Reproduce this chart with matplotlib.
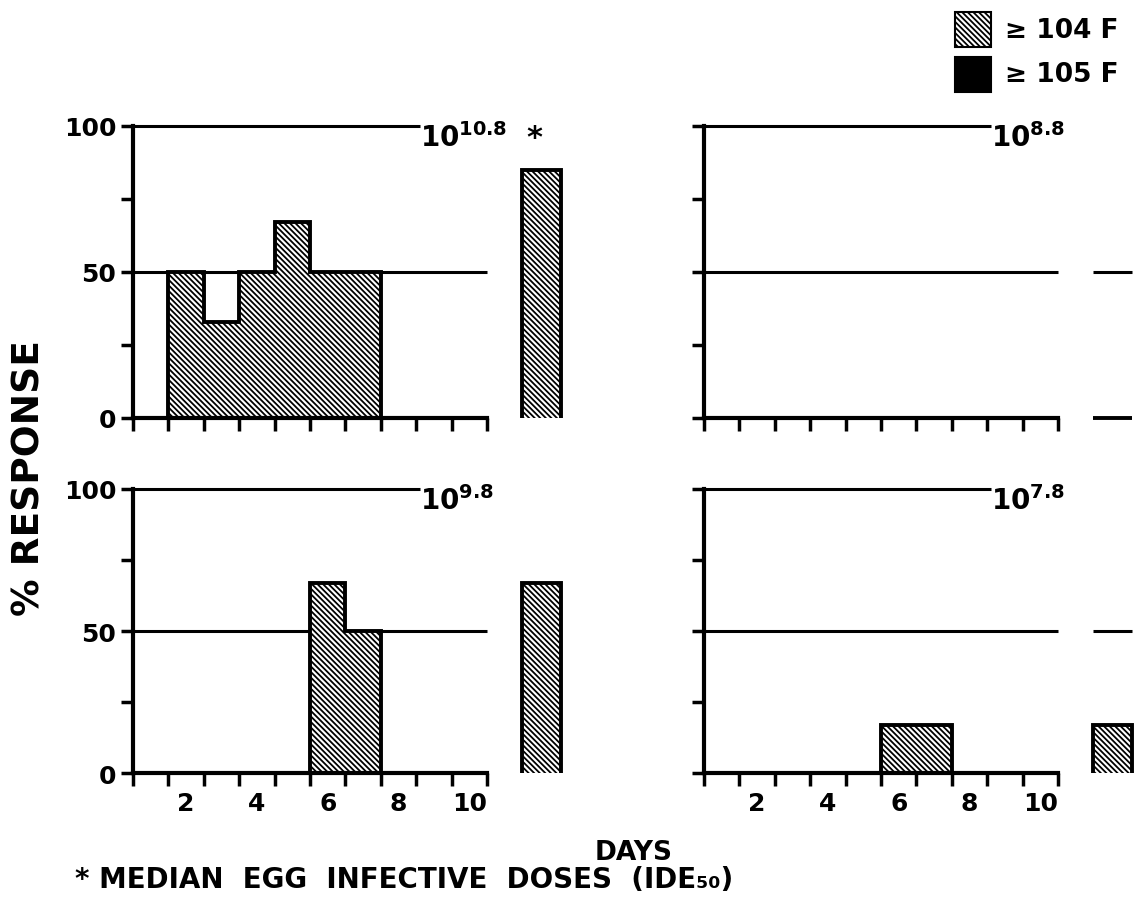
import numpy as np
import matplotlib
matplotlib.use("Agg")
import matplotlib.pyplot as plt
from matplotlib.patches import Rectangle

plt.rcParams['font.family'] = ['DejaVu Sans']
plt.rcParams['font.weight'] = 'bold'
plt.rcParams['mathtext.fontset'] = 'dejavusans'
plt.rcParams['mathtext.default'] = 'bf'
plt.rcParams['hatch.linewidth'] = 1.3

# Daily % of animals responding with fever >= 104 F, days 1..10
days = np.arange(1, 11)
resp_10_8 = [0, 50, 33, 50, 67, 50, 50, 0, 0, 0]
resp_9_8 = [0, 0, 0, 0, 0, 67, 50, 0, 0, 0]
resp_8_8 = [0, 0, 0, 0, 0, 0, 0, 0, 0, 0]
resp_7_8 = [0, 0, 0, 0, 0, 17, 17, 0, 0, 0]

# Overall response for each dose
overall_10_8 = 85
overall_9_8 = 67
overall_8_8 = 0
overall_7_8 = 17

dose_labels = ["10.8", "8.8", "9.8", "7.8"]
day_ticks = [2, 4, 6, 8, 10]
y_ticks = [0, 25, 50, 75, 100]
y_ticklabels = ["0", "", "50", "", "100"]

panels = [
    (resp_10_8, overall_10_8, dose_labels[0]),
    (resp_8_8, overall_8_8, dose_labels[1]),
    (resp_9_8, overall_9_8, dose_labels[2]),
    (resp_7_8, overall_7_8, dose_labels[3]),
]

W, H = 1143, 912
fig = plt.figure(figsize=(W / 100, H / 100), dpi=100)

HATCH = '\\' * 6
LW_AX = 3.0
LW_REF = 2.2
LW_BAR = 2.8
FS = 18

summary_x = 12.05
summary_w = 1.1

# axes placement in pixels: (left, top, bottom)
ax_w = 439
boxes = [(133, 127, 419), (704, 127, 419), (133, 490, 774), (704, 490, 774)]

for i, ((vals, overall, dose), (left, top, bottom)) in enumerate(zip(panels, boxes)):
    ax = fig.add_axes([left / W, 1 - bottom / H, ax_w / W, (bottom - top) / H])
    ax.set_xlim(0.5, 12.9)
    ax.set_ylim(0, 100)
    ax.patch.set_alpha(0)
    for s in ('top', 'right'):
        ax.spines[s].set_visible(False)
    for s in ('left', 'bottom'):
        ax.spines[s].set_linewidth(LW_AX)
    ax.spines['bottom'].set_bounds(0.5, 10.5)
    ax.spines['left'].set_bounds(0, 100)

    # reference lines at 100% and 50%
    ax.hlines(100, 0.5, 8.6, color='black', lw=LW_REF, zorder=1, clip_on=False)
    ax.hlines(50, 0.5, 10.5, color='black', lw=LW_REF, zorder=1)
    ax.hlines(50, summary_x - summary_w / 2, summary_x + summary_w / 2,
              color='black', lw=LW_REF, zorder=1)

    # daily hatched histogram
    ax.bar(days, vals, width=1.0, facecolor='white', edgecolor='black',
           linewidth=0, hatch=HATCH, zorder=2)
    ax.stairs(vals, np.arange(0.5, 11.0, 1.0), color='black', lw=LW_BAR,
              baseline=0, zorder=3, clip_on=False)

    # overall response bar
    ax.bar(summary_x, overall, width=summary_w, facecolor='white',
           edgecolor='black', linewidth=0, hatch=HATCH, zorder=3)
    ax.stairs([overall], [summary_x - summary_w / 2, summary_x + summary_w / 2],
              color='black', lw=LW_BAR, baseline=0, zorder=4, clip_on=False)

    # dose label
    ax.text(8.62, 93, r'$\mathbf{10}^{\mathbf{' + dose + '}}$', fontsize=20,
            ha='left', va='baseline', zorder=4)
    if i == 0:
        ax.text(11.85, 96, '*', fontsize=22, ha='center', va='center')

    # ticks
    ax.set_xticks(np.arange(0.5, 11.0, 1.0), minor=True)
    ax.set_xticks(day_ticks)
    if i >= 2:
        ax.set_xticklabels([str(d) for d in day_ticks], fontsize=FS, fontweight='bold')
    else:
        ax.set_xticklabels([''] * len(day_ticks))
    ax.tick_params(axis='x', which='minor', direction='out', length=9, width=2.5)
    ax.tick_params(axis='x', which='major', length=0, pad=13)
    ax.set_yticks(y_ticks)
    if i % 2 == 0:
        ax.set_yticklabels(y_ticklabels, fontsize=FS, fontweight='bold')
    else:
        ax.set_yticklabels([''] * len(y_ticks))
    ax.tick_params(axis='y', direction='out', length=9, width=2.5, pad=3)

# axis titles and footnote
fig.text(30 / W, 1 - 478 / H, '% RESPONSE', rotation=90, ha='center', va='center',
         fontsize=27, fontweight='bold')
fig.text(634 / W, 1 - 853 / H, 'DAYS', ha='center', va='center',
         fontsize=19, fontweight='bold')
fig.text(75 / W, 1 - 880 / H, '* MEDIAN  EGG  INFECTIVE  DOSES  (IDE₅₀)',
         ha='left', va='center', fontsize=20, fontweight='bold')

# legend
fig.patches.append(Rectangle((955 / W, 1 - 48 / H), 36 / W, 35 / H,
                             transform=fig.transFigure, facecolor='white',
                             edgecolor='black', hatch=HATCH, linewidth=1.5))
fig.patches.append(Rectangle((955 / W, 1 - 93 / H), 36 / W, 35 / H,
                             transform=fig.transFigure, facecolor='black',
                             edgecolor='black', linewidth=1.5))
fig.text(1005 / W, 1 - 31 / H, '≥ 104 F', ha='left', va='center',
         fontsize=19, fontweight='bold')
fig.text(1005 / W, 1 - 75 / H, '≥ 105 F', ha='left', va='center',
         fontsize=19, fontweight='bold')

fig.savefig('out.png', dpi=100)
